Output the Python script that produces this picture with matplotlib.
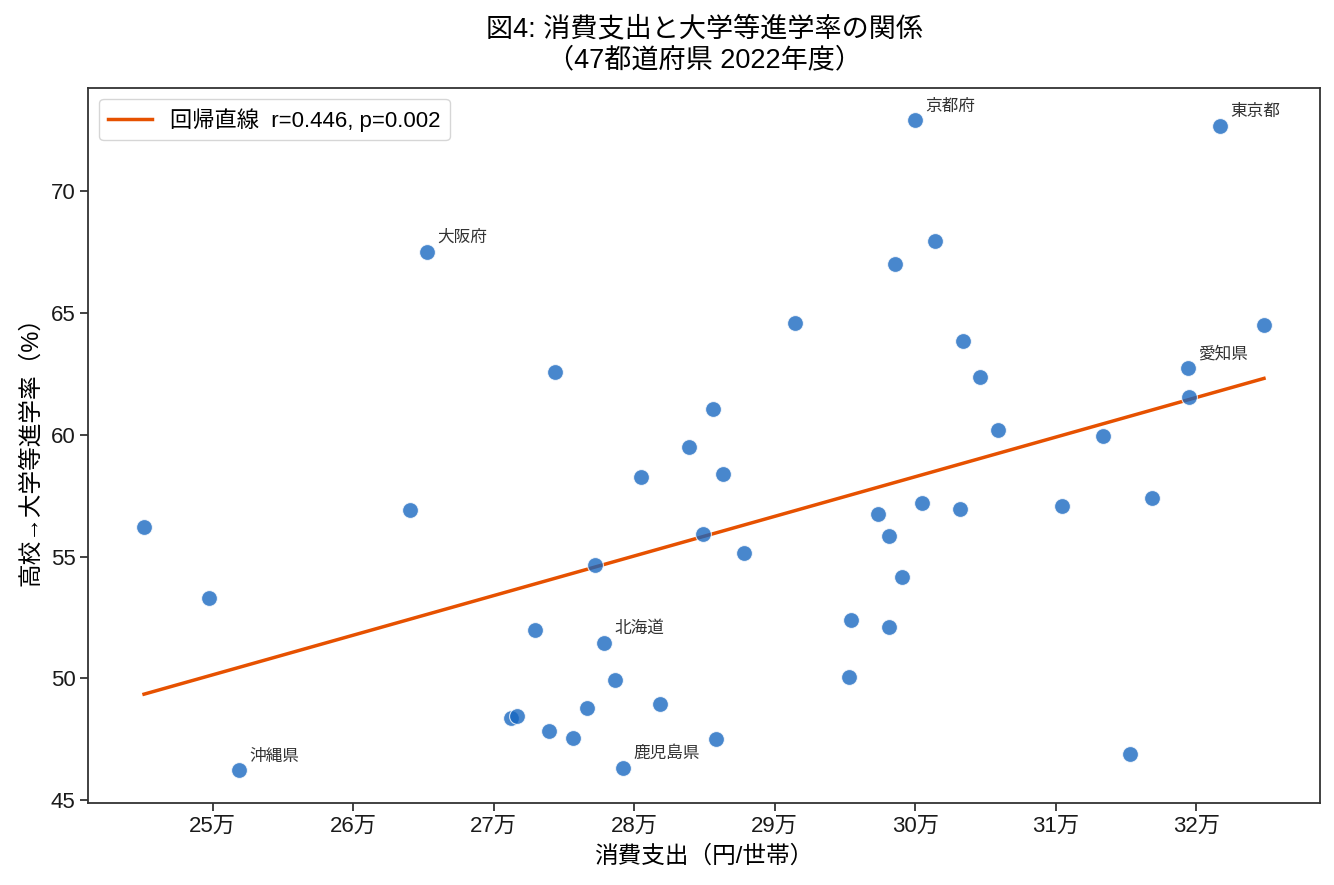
import numpy as np
import matplotlib
matplotlib.use("Agg")
import matplotlib.pyplot as plt
from matplotlib.ticker import FuncFormatter, MultipleLocator

plt.rcParams['font.family'] = ['Liberation Sans', 'Noto Sans CJK JP', 'DejaVu Sans']

# 消費支出（円/世帯）
spending = [245100, 249760, 251850, 265250, 264000, 274330, 272910, 271240, 271670,
            273910, 275640, 276600, 277210, 277820, 278600, 279180, 280460, 281850,
            291410, 303380, 304590, 324830, 319410, 319500, 285620, 283920, 286290,
            305860, 313350, 284860, 287830, 297320, 300470, 303170, 310440, 316830,
            298100, 299040, 295410, 298100, 295320, 285830, 315260, 299980, 321680,
            301380, 298560]
# 高校→大学等進学率（%）
rate = [56.23, 53.31, 46.22, 67.49, 56.91, 62.57, 51.97, 48.39, 48.46,
        47.84, 47.54, 48.80, 54.66, 51.46, 49.95, 46.34, 58.28, 48.96,
        64.59, 63.85, 62.37, 64.51, 62.73, 61.56, 61.07, 59.51, 58.39,
        60.20, 59.95, 55.94, 55.15, 56.75, 57.20, 56.95, 57.08, 57.41,
        55.85, 54.17, 52.41, 52.12, 50.04, 47.53, 46.88, 72.90, 72.66,
        67.94, 67.00]
labels = ['', '', '沖縄県', '大阪府', '', '', '', '', '',
          '', '', '', '', '北海道', '', '鹿児島県', '', '',
          '', '', '', '', '愛知県', '', '', '', '',
          '', '', '', '', '', '', '', '', '',
          '', '', '', '', '', '', '', '京都府', '東京都',
          '', '']
legend_label = '回帰直線  r=0.446, p=0.002'
title = '図4: 消費支出と大学等進学率の関係\n（47都道府県 2022年度）'
xlabel = '消費支出（円/世帯）'
ylabel = '高校→大学等進学率（%）'

x = np.array(spending, dtype=float)
y = np.array(rate, dtype=float)

fig = plt.figure(figsize=(13.34, 8.85), dpi=100)
ax = fig.add_axes([0.066, 0.0927, 0.9235, 0.808])

ax.scatter(x, y, s=130, color='#1565C0', alpha=0.78, edgecolors='white', linewidths=0.8, zorder=3)

slope, intercept = np.polyfit(x, y, 1)
xs = np.array([x.min(), x.max()])
ax.plot(xs, slope * xs + intercept, color='#E65100', lw=2.5, label=legend_label, zorder=2)

for xi, yi, lab in zip(x, y, labels):
    if lab:
        ax.annotate(lab, (xi, yi), xytext=(7.5, 5), textcoords='offset points',
                    fontsize=12, color='#333333', ha='left', va='bottom')

ax.xaxis.set_major_locator(MultipleLocator(10000))
ax.xaxis.set_major_formatter(FuncFormatter(lambda v, p: f'{v/10000:.0f}万'))
ax.yaxis.set_major_locator(MultipleLocator(5))
ax.tick_params(labelsize=16, length=5.5, width=1.3, color='#333333', labelcolor='#1a1a1a')
for s in ax.spines.values():
    s.set_color('#333333')
    s.set_linewidth(1.3)

ax.set_xlabel(xlabel, fontsize=17, labelpad=6)
ax.set_ylabel(ylabel, fontsize=17, labelpad=6)
ax.set_title(title, fontsize=19.5, pad=15, linespacing=1.25)
ax.legend(loc='upper left', fontsize=16)

fig.savefig('out.png', dpi=100)
